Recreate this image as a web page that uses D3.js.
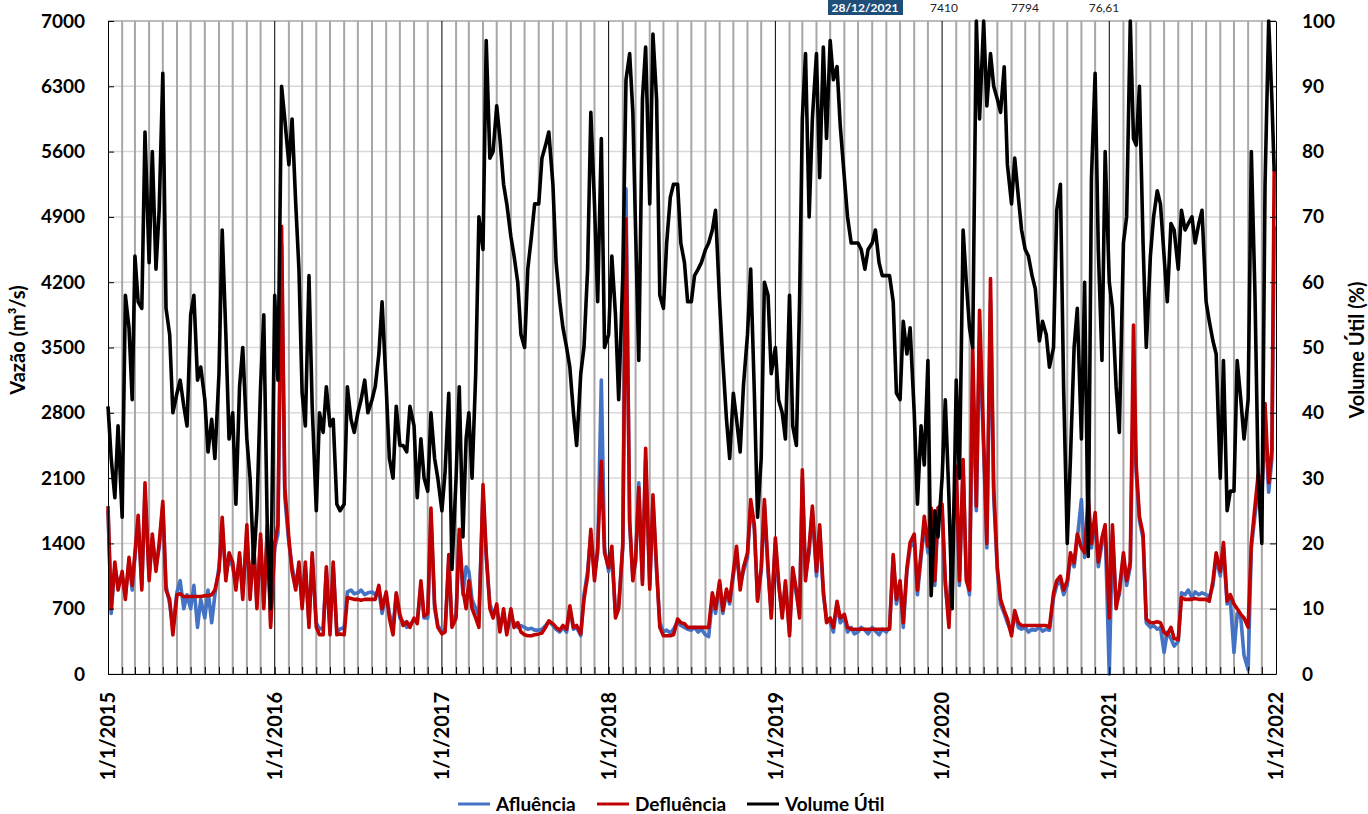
<!DOCTYPE html>
<meta charset="utf-8">
<style>
body { margin: 0; background: #fff; }
text { font-family: Lato, "Liberation Sans", sans-serif; font-weight: bold; fill: #000; }
.axis text { font-size: 19px; }
.axis path, .axis line { stroke: #000; stroke-width: 1px; }
.serie { fill: none; stroke-width: 3.6px; stroke-linejoin: round; }
</style>
<body>
<script src="https://cdn.jsdelivr.net/npm/d3@7"></script>
<script>
// 4 samples per month (days 1, 8, 16, 23), Jan/2015 - Dec/2021, last one 28/12/2021
var sampleDays = [1, 8, 16, 23];
var lastDate = new Date(2021, 11, 28);

var afluencia = [
  1750,650,1150,950, 1050,850,1200,900, 1250,1650,950,1950, 1050,1450,1150,1350, 1800,950,750,500, 880,1000,700,850, 700,950,500,800, 600,900,550,850, 1150,1600,1050,1250, 1150,950,1250,850, 1500,850,1350,750, 1450,750,1550,550,
  1350,1500,4600,1900, 1400,1150,950,1150, 750,1150,550,1250, 550,480,500,1100, 480,1150,450,480, 500,880,900,860, 870,900,850,870, 880,850,900,650, 850,650,500,850, 600,560,500,530, 580,560,950,600, 600,1700,700,520,
  460,480,1200,520, 650,1500,850,1150, 1100,800,700,620, 1950,1250,750,650, 700,500,650,450, 600,550,500,520, 500,480,490,470, 470,480,520,560, 520,480,450,500, 450,700,480,500, 410,850,1100,1500, 1050,1300,3150,1350,
  1100,1300,650,750, 1350,5200,1600,1050, 1200,2050,1000,2300, 950,1850,1100,550, 450,470,440,480, 560,520,500,480, 470,500,450,480, 420,400,800,650, 950,650,880,750, 1050,1300,950,1100, 1250,1800,1550,800, 1100,1800,1100,650,
  1400,950,650,950, 450,1100,850,650, 2100,1050,1300,1750, 1050,1550,850,600, 550,450,750,550, 600,450,500,430, 450,500,470,430, 500,460,420,480, 450,500,1250,750, 950,500,1100,1350, 1450,850,1250,1600, 1300,1700,950,1700,
  1750,950,550,1350, 2150,950,2200,1050, 850,3200,1750,3600, 2400,1350,4000,1900, 1100,750,650,550, 450,650,500,480, 500,450,480,470, 500,460,480,470, 820,950,1000,850, 950,1250,1150,1450, 1870,1250,1800,1350, 1650,1150,1400,1550,
  0,1500,750,850, 1250,950,1150,3060, 2150,1650,1450,550, 500,520,480,500, 230,450,380,300, 350,870,850,900, 820,880,850,870, 850,820,950,1250, 1050,1350,750,800, 230,650,600,200, 45,1350,1700,2000, 1900,2700,1950,2300,
  4800
];

var defluencia = [
  1800,700,1200,900, 1100,800,1250,950, 1300,1700,900,2050, 1000,1500,1100,1400, 1850,900,800,420, 850,860,830,830, 830,830,830,830, 840,840,850,900, 1100,1680,1000,1300, 1200,900,1300,800, 1600,800,1400,700, 1500,700,1600,500,
  1400,1600,4800,2000, 1450,1100,900,1200, 700,1200,500,1300, 500,420,420,1150, 420,1200,420,430, 420,820,810,800, 800,790,800,800, 800,800,950,700, 880,600,420,870, 640,520,560,500, 600,540,1000,620, 650,1780,750,500,
  430,450,1280,500, 600,1550,900,700, 1000,700,600,500, 2030,1300,700,600, 750,450,700,420, 700,500,550,450, 420,410,410,420, 430,440,500,570, 540,500,470,520, 480,730,500,520, 430,800,1050,1550, 1000,1350,2280,1300,
  1140,1370,600,700, 1400,4880,1650,1000, 1230,2000,960,2420, 910,1920,1140,500, 410,410,410,420, 590,550,540,500, 500,500,500,500, 500,500,870,700, 1000,680,910,780, 1100,1370,900,1140, 1300,1870,1600,780, 1140,1870,1140,600,
  1460,1000,600,1000, 410,1140,900,600, 2190,1000,1370,1800, 1100,1600,900,550, 600,500,780,600, 640,500,480,480, 480,480,480,480, 480,480,480,480, 480,480,1280,800, 1000,550,1140,1410, 1500,900,1300,1690, 1370,1780,1000,1780,
  1820,1000,500,1400, 2230,1000,2300,1000, 900,3500,1800,3900, 2500,1400,4240,2000, 1140,800,680,590, 410,680,550,520, 520,520,520,520, 520,520,520,500, 870,1000,1050,900, 1000,1300,1190,1500, 1350,1300,1900,1400, 1730,1200,1460,1600,
  600,1600,700,900, 1300,1000,1200,3740, 2230,1690,1500,590, 550,550,560,550, 450,420,500,380, 370,820,800,800, 800,810,800,800, 800,780,1000,1300, 1100,1410,780,850, 750,700,640,600, 500,1400,1800,2140, 1960,2900,2050,2400,
  5400
];

var volumeUtil = [
  41,33,27,38, 24,58,53,42, 64,57,56,83, 63,80,62,71, 92,56,52,40, 43,45,41,38, 55,58,45,47, 42,34,39,33, 46,68,52,36, 40,26,44,50, 36,30,17,25, 44,55,21,10,
  58,45,90,85, 78,85,72,62, 43,38,61,41, 25,40,37,44, 38,39,26,25, 26,44,39,37, 40,42,45,40, 42,44,49,57, 44,33,30,41, 35,35,34,41, 38,27,36,30, 28,40,33,30,
  25,31,43,16, 30,44,21,36, 40,30,46,70, 65,97,79,80, 87,82,75,72, 67,64,60,52, 50,62,67,72, 72,79,81,83, 75,63,57,53, 50,47,40,35, 46,50,62,86, 72,57,82,50,
  52,64,55,42, 61,91,95,86, 68,48,88,96, 72,98,88,58, 56,66,73,75, 75,66,63,57, 57,61,62,63, 65,66,68,71, 57,48,39,33, 43,39,34,44, 52,62,43,24, 33,60,58,46,
  50,42,40,36, 58,38,35,57, 85,95,70,85, 95,76,96,82, 97,91,93,84, 76,70,66,66, 66,65,62,65, 66,68,63,61, 61,61,57,43, 42,54,49,53, 40,26,38,32, 48,12,25,21,
  30,42,27,10, 45,30,68,60, 53,50,100,85, 100,87,95,90, 88,86,93,78, 72,79,73,68, 65,64,61,59, 51,54,52,47, 50,71,75,44, 20,33,50,56, 36,60,18,76, 92,65,48,80,
  60,56,44,37, 66,70,100,82, 81,90,66,50, 64,70,74,72, 64,57,69,68, 62,71,68,69, 70,66,69,71, 57,54,51,49, 30,48,25,28, 28,48,42,36, 42,80,58,30, 20,75,100,88,
  77
];

var flowTicks = [0, 700, 1400, 2100, 2800, 3500, 4200, 4900, 5600, 6300, 7000];
var volTicks = [0, 10, 20, 30, 40, 50, 60, 70, 80, 90, 100];
var yearLabels = ["1/1/2015", "1/1/2016", "1/1/2017", "1/1/2018", "1/1/2019", "1/1/2020", "1/1/2021", "1/1/2022"];
var seriesNames = ["Afluência", "Defluência", "Volume Útil"];
var seriesColors = ["#4472c4", "#c00000", "#000000"];
var tableRow = ["28/12/2021", "7410", "7794", "76,61"];

var width = 1368, height = 814;
var plotLeft = 108, plotRight = 1276, plotTop = 21, plotBottom = 674;

var svg = d3.select("body").append("svg")
    .attr("width", width)
    .attr("height", height);

var x = d3.scaleTime()
    .domain([new Date(2015, 0, 1), new Date(2022, 0, 1)])
    .range([plotLeft, plotRight]);
var yQ = d3.scaleLinear().domain([0, 7000]).range([plotBottom, plotTop]);
var yV = d3.scaleLinear().domain([0, 100]).range([plotBottom, plotTop]);

function dateAt(i) {
  if (i >= 336) return lastDate;
  return new Date(2015, Math.floor(i / 4), sampleDays[i % 4]);
}

// horizontal grid
svg.append("g").selectAll("line")
    .data(flowTicks)
  .enter().append("line")
    .attr("x1", plotLeft).attr("x2", plotRight)
    .attr("y1", function(d) { return yQ(d); })
    .attr("y2", function(d) { return yQ(d); })
    .attr("stroke", function(d) { return d == 7000 ? "#a6a6a6" : "#d9d9d9"; })
    .attr("stroke-width", 1.5);

// vertical monthly grid, black at each year
var months = d3.timeMonth.range(new Date(2015, 1, 1), new Date(2022, 0, 1));
svg.append("g").selectAll("line")
    .data(months)
  .enter().append("line")
    .attr("x1", function(d) { return x(d); })
    .attr("x2", function(d) { return x(d); })
    .attr("y1", plotTop).attr("y2", plotBottom)
    .attr("stroke", function(d) { return d.getMonth() == 0 ? "#000" : "#aaa6a6"; })
    .attr("stroke-width", function(d) { return d.getMonth() == 0 ? 1 : 2; });

// series
var series = [afluencia, defluencia, volumeUtil];
series.forEach(function(vals, k) {
  var y = k == 2 ? yV : yQ;
  var line = d3.line()
      .x(function(d, i) { return x(dateAt(i)); })
      .y(function(d) { return y(d); });
  svg.append("path")
      .datum(vals)
      .attr("class", "serie")
      .attr("stroke", seriesColors[k])
      .attr("d", line);
});

// axes
svg.append("g")
    .attr("class", "axis")
    .attr("transform", "translate(" + plotLeft + ",0)")
    .call(d3.axisLeft(yQ).tickValues(flowTicks).tickFormat(d3.format("d"))
      .tickSize(-6).tickSizeOuter(0).tickPadding(23));

svg.append("g")
    .attr("class", "axis")
    .attr("transform", "translate(" + plotRight + ",0)")
    .call(d3.axisRight(yV).tickValues(volTicks).tickFormat(d3.format("d"))
      .tickSize(-6).tickSizeOuter(0).tickPadding(26));

svg.append("g")
    .attr("class", "axis")
    .attr("transform", "translate(0," + plotBottom + ")")
    .call(d3.axisBottom(x).ticks(d3.timeMonth.every(1)).tickSize(-7).tickSizeOuter(0).tickFormat(""));

svg.append("g").selectAll("text")
    .data(yearLabels)
  .enter().append("text")
    .attr("transform", function(d, i) {
      return "translate(" + x(new Date(2015 + i, 0, 1)) + "," + (plotBottom + 18) + ") rotate(-90)";
    })
    .attr("text-anchor", "end")
    .attr("dy", "0.36em")
    .style("font-size", "20px")
    .text(function(d) { return d; });

// axis titles
svg.append("text")
    .attr("transform", "translate(25,340) rotate(-90)")
    .attr("text-anchor", "middle")
    .style("font-size", "20px")
    .text("Vazão (m³/s)");

svg.append("text")
    .attr("transform", "translate(1364,350) rotate(-90)")
    .attr("text-anchor", "middle")
    .style("font-size", "20px")
    .text("Volume Útil (%)");

// legend
var legendX = [458, 597, 747];
var legend = svg.append("g").selectAll("g")
    .data(seriesNames)
  .enter().append("g")
    .attr("transform", function(d, i) { return "translate(" + legendX[i] + ",804)"; });
legend.append("line")
    .attr("x1", 0).attr("x2", 32)
    .attr("stroke", function(d, i) { return seriesColors[i]; })
    .attr("stroke-width", 3);
legend.append("text")
    .attr("x", 38)
    .attr("dy", "0.36em")
    .style("font-size", "19px")
    .text(function(d) { return d; });

// fragment of the table above the chart
svg.append("rect")
    .attr("x", 828).attr("y", 0)
    .attr("width", 75).attr("height", 15)
    .attr("fill", "#1f4e79");
var tableX = [865, 944, 1025, 1104];
svg.append("g").selectAll("text")
    .data(tableRow)
  .enter().append("text")
    .attr("x", function(d, i) { return tableX[i]; })
    .attr("y", 12)
    .attr("text-anchor", "middle")
    .style("font-size", "12px")
    .style("font-weight", function(d, i) { return i == 0 ? "bold" : "normal"; })
    .style("fill", function(d, i) { return i == 0 ? "#fff" : "#222"; })
    .text(function(d) { return d; });
</script>
